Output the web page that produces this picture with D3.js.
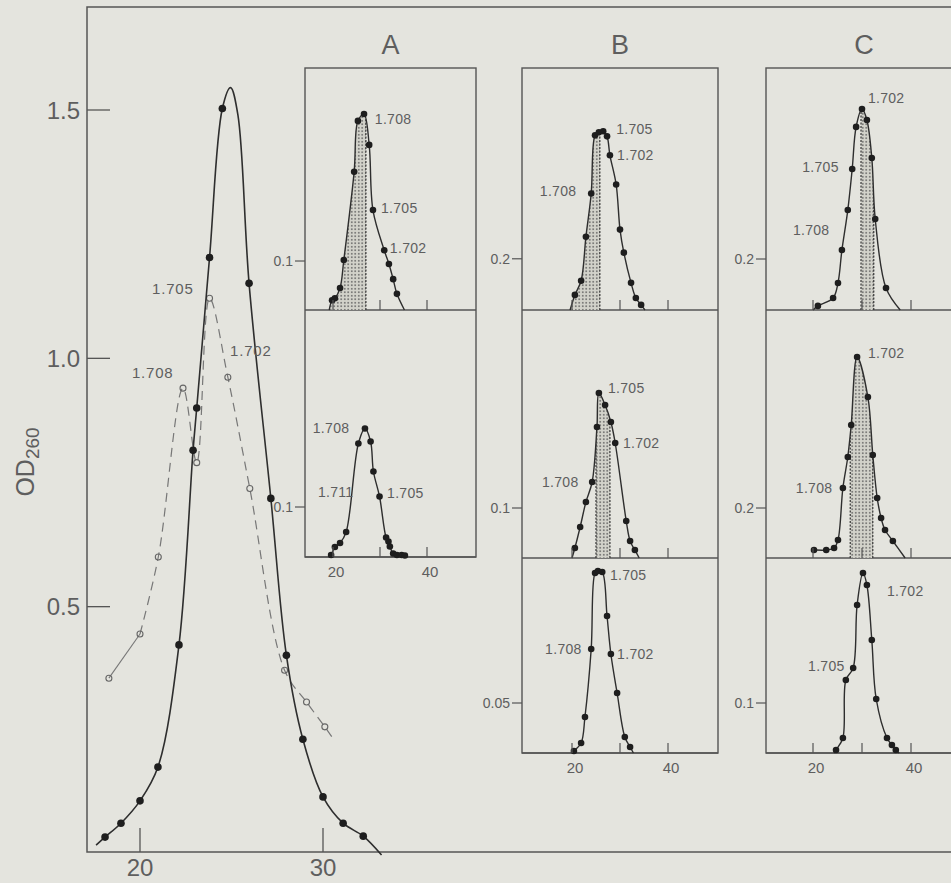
<!DOCTYPE html>
<html>
<head>
<meta charset="utf-8">
<script src="https://cdn.jsdelivr.net/npm/d3@7"></script>
<style>
  body { margin: 0; background: #e4e4de; }
  svg { display: block; }
  text { font-family: "Liberation Sans", Arial, sans-serif; fill: #5e5e5e; }
</style>
</head>
<body>
<script>
// main profile, filled points (fraction number, OD260)
var mainFilled = [[18.09,0.036],[18.96,0.064],[20.0,0.109],[20.98,0.177],[22.13,0.423],[22.9,0.815],[23.1,0.90],[23.8,1.203],[24.5,1.503],[25.96,1.151],[27.15,0.718],[28.0,0.402],[28.9,0.233],[30.0,0.117],[31.1,0.064],[32.2,0.038]]
// knots of the hand drawn solid curve
var mainCurve = [[17.6,0.02],[18.09,0.036],[18.96,0.064],[20.0,0.109],[20.98,0.177],[22.13,0.423],[22.9,0.815],[23.1,0.90],[23.8,1.203],[24.5,1.503],[24.95,1.545],[25.35,1.49],[25.96,1.151],[27.15,0.718],[28.0,0.402],[28.9,0.233],[30.0,0.117],[31.1,0.064],[32.2,0.038],[33.2,0.0]]
// open circles (dashed profile)
var mainOpen = [[18.3,0.356],[20.0,0.445],[21.0,0.60],[22.35,0.94],[23.1,0.79],[23.8,1.121],[24.8,0.962],[26.0,0.738],[27.9,0.372],[29.1,0.308],[30.1,0.258]]
var mainOpenEnd = [30.5,0.237]
var mainLabels = [["1.705",20.66,1.141],["1.702",24.92,1.016],["1.708",19.56,0.972]]
var mainYTicks = [0.5, 1.0, 1.5]
var mainXTicks = [20, 30]

// insets: points, curve ends, shaded range, labels
var a1Points = [[19.8,0.020],[20.4,0.024],[21.5,0.045],[22.3,0.102],[24.5,0.282],[25.3,0.386],[26.6,0.400],[27.7,0.337],[28.5,0.204],[30.9,0.122],[31.9,0.094],[32.8,0.063],[33.6,0.033]]
var a1Ends = [[19.2,0.0],[35.2,0.0]]
var a1Shade = [19.2, 27.0]
var a1Labels = [["1.708",28.9,0.390],["1.705",30.2,0.208],["1.702",32.1,0.127]]

var a2Points = [[19.6,0.004],[20.4,0.02],[21.5,0.028],[22.8,0.05],[25.4,0.227],[26.8,0.257],[28.0,0.231],[28.6,0.171],[29.9,0.121],[31.3,0.039],[31.8,0.031],[32.1,0.021],[32.8,0.007],[33.6,0.004],[34.6,0.004],[35.3,0.003]]
var a2Ends = [[19.2,0.0],[35.5,0.003]]
var a2Labels = [["1.708",15.7,0.258],["1.711",16.8,0.13],["1.705",31.5,0.128]]

var b1Points = [[20.6,0.059],[21.9,0.114],[22.9,0.286],[24.0,0.455],[24.8,0.682],[25.6,0.694],[26.5,0.698],[27.3,0.678],[27.9,0.604],[29.2,0.490],[30.0,0.314],[30.8,0.224],[32.3,0.106],[33.3,0.047],[34.4,0.020]]
var b1Ends = [[19.6,0.0],[35.2,0.0]]
var b1Shade = [19.6, 25.8]
var b1Labels = [["1.705",29.2,0.706],["1.702",29.4,0.604],["1.708",13.3,0.463]]

var b2Points = [[20.6,0.02],[21.7,0.062],[22.9,0.112],[24.2,0.152],[25.2,0.262],[25.6,0.33],[26.9,0.306],[28.1,0.272],[29.0,0.23],[31.3,0.074],[32.1,0.034],[33.1,0.016]]
var b2Ends = [[20.0,0.0],[34.0,0.0]]
var b2Shade = [25.0, 27.9]
var b2Labels = [["1.705",27.5,0.34],["1.702",30.6,0.23],["1.708",13.75,0.152]]

var b3Points = [[20.4,0.002],[21.9,0.010],[22.7,0.036],[24.0,0.104],[24.8,0.18],[25.4,0.182],[26.3,0.181],[27.3,0.137],[28.1,0.099],[29.4,0.060],[31.0,0.016],[32.1,0.006]]
var b3Ends = [[20.0,0.0],[32.8,0.0]]
var b3Labels = [["1.705",27.9,0.178],["1.708",14.4,0.104],["1.702",29.4,0.099]]

var c1Points = [[21.0,0.016],[24.1,0.047],[25.1,0.106],[25.9,0.235],[27.1,0.392],[28.0,0.553],[28.8,0.718],[30.0,0.788],[31.0,0.745],[32.0,0.596],[32.7,0.357],[34.9,0.086]]
var c1Ends = [[20.0,0.0],[37.8,0.0]]
var c1Shade = [29.8, 32.4]
var c1Labels = [["1.702",31.2,0.831],["1.705",17.8,0.561],["1.708",15.9,0.314]]

var c2Points = [[20.2,0.032],[22.7,0.032],[24.3,0.04],[25.1,0.072],[26.1,0.28],[27.1,0.404],[27.8,0.532],[29.0,0.804],[31.2,0.644],[32.2,0.412],[33.1,0.24],[33.9,0.16],[34.7,0.112],[36.3,0.068]]
var c2Ends = [[20.0,0.032],[38.8,0.0]]
var c2Shade = [27.6, 32.2]
var c2Labels = [["1.702",31.2,0.82],["1.708",16.5,0.28]]

var c3Points = [[24.7,0.006],[26.1,0.03],[26.7,0.146],[28.2,0.17],[29.0,0.296],[30.2,0.36],[31.0,0.336],[32.0,0.226],[32.9,0.108],[35.1,0.03],[36.1,0.016],[36.9,0.006]]
var c3Ends = [[24.3,0.0],[37.6,0.0]]
var c3Labels = [["1.705",19.0,0.174],["1.702",35.1,0.324]]

var insetXTicks = [20, 30, 40]
var insetXLabels = [20, 40]
var titles = ["A", "B", "C"]

var W = 951, H = 883
var svg = d3.select("body").append("svg").attr("width", W).attr("height", H)

var ink = "#2e2e2e", frame = "#555"

// stipple pattern for the shaded areas
var pat = svg.append("defs").append("pattern")
    .attr("id", "stip").attr("width", 3.5).attr("height", 3.5)
    .attr("patternUnits", "userSpaceOnUse")
pat.append("rect").attr("width", 3.5).attr("height", 3.5).attr("fill", "#d2d2ca")
pat.append("circle").attr("cx", 1.75).attr("cy", 1.75).attr("r", 0.8).attr("fill", "#555")

// ---- main panel ----
var x = d3.scaleLinear().domain([20, 30]).range([140, 323])
var y = d3.scaleLinear().domain([0, 1.5]).range([855, 110])

// frame: top, left, bottom
svg.append("path")
    .attr("d", "M" + W + ",7H87V852H" + W)
    .attr("fill", "none").attr("stroke", frame).attr("stroke-width", 1.5)

svg.selectAll(".ytick").data(mainYTicks).enter().append("line")
    .attr("x1", 87).attr("x2", 110)
    .attr("y1", function (d) { return y(d) }).attr("y2", function (d) { return y(d) })
    .attr("stroke", frame).attr("stroke-width", 1.3)
svg.selectAll(".ylab").data(mainYTicks).enter().append("text")
    .attr("x", 80).attr("y", function (d) { return y(d) })
    .attr("dy", "0.36em").attr("text-anchor", "end")
    .style("font-size", "24px")
    .text(function (d) { return d.toFixed(1) })
svg.selectAll(".xtick").data(mainXTicks).enter().append("line")
    .attr("x1", function (d) { return x(d) }).attr("x2", function (d) { return x(d) })
    .attr("y1", 852).attr("y2", 828)
    .attr("stroke", frame).attr("stroke-width", 1.3)
svg.selectAll(".xlab").data(mainXTicks).enter().append("text")
    .attr("x", function (d) { return x(d) }).attr("y", 876)
    .attr("text-anchor", "middle").style("font-size", "24px")
    .text(function (d) { return d })

// y axis title OD260
var yt = svg.append("text")
    .attr("transform", "translate(34,462) rotate(-90)")
    .attr("text-anchor", "middle").style("font-size", "25px")
yt.append("tspan").text("OD")
yt.append("tspan").attr("dy", 5).style("font-size", "19px").text("260")

var line = d3.line()
    .x(function (d) { return x(d[0]) }).y(function (d) { return y(d[1]) })

// open circle profile: thin solid start, then dashed
var openLine = mainOpen.concat([mainOpenEnd])
svg.append("path").datum(openLine.slice(0, 2))
    .attr("d", line).attr("fill", "none").attr("stroke", "#777").attr("stroke-width", 1.1)
svg.append("path").datum(openLine.slice(1))
    .attr("d", line.curve(d3.curveCatmullRom.alpha(0.5)))
    .attr("fill", "none").attr("stroke", "#777").attr("stroke-width", 1.2)
    .attr("stroke-dasharray", "9,6")
svg.selectAll(".open").data(mainOpen).enter().append("circle")
    .attr("cx", function (d) { return x(d[0]) }).attr("cy", function (d) { return y(d[1]) })
    .attr("r", 3).attr("fill", "none").attr("stroke", "#666").attr("stroke-width", 1.1)

svg.append("path").datum(mainCurve)
    .attr("d", line.curve(d3.curveCatmullRom.alpha(0.5)))
    .attr("fill", "none").attr("stroke", ink).attr("stroke-width", 1.6)
svg.selectAll(".filled").data(mainFilled).enter().append("circle")
    .attr("cx", function (d) { return x(d[0]) }).attr("cy", function (d) { return y(d[1]) })
    .attr("r", 3.8).attr("fill", "#1e1e1e")

svg.selectAll(".mlab").data(mainLabels).enter().append("text")
    .attr("x", function (d) { return x(d[1]) }).attr("y", function (d) { return y(d[2]) })
    .attr("dy", "0.36em").style("font-size", "15px").style("letter-spacing", "0.8px")
    .text(function (d) { return d[0] })

// ---- insets ----
var columns = [
    { left: 305, right: 476, x20: 333, x40: 427, bottom: 557 },
    { left: 522, right: 718, x20: 572, x40: 668, bottom: 753 },
    { left: 766, right: 962, x20: 813, x40: 911, bottom: 753 }
]
var rows = [[68, 310], [310, 558], [558, 753]]

var panels = [
    { col: 0, row: 0, ymax: 0.494, tick: 0.1, pts: a1Points, ends: a1Ends, shade: a1Shade, labels: a1Labels },
    { col: 0, row: 1, ymax: 0.494, tick: 0.1, pts: a2Points, ends: a2Ends, shade: null, labels: a2Labels, xlab: true },
    { col: 1, row: 0, ymax: 0.945, tick: 0.2, pts: b1Points, ends: b1Ends, shade: b1Shade, labels: b1Labels },
    { col: 1, row: 1, ymax: 0.496, tick: 0.1, pts: b2Points, ends: b2Ends, shade: b2Shade, labels: b2Labels },
    { col: 1, row: 2, ymax: 0.195, tick: 0.05, pts: b3Points, ends: b3Ends, shade: null, labels: b3Labels, xlab: true },
    { col: 2, row: 0, ymax: 0.949, tick: 0.2, pts: c1Points, ends: c1Ends, shade: c1Shade, labels: c1Labels },
    { col: 2, row: 1, ymax: 0.992, tick: 0.2, pts: c2Points, ends: c2Ends, shade: c2Shade, labels: c2Labels },
    { col: 2, row: 2, ymax: 0.39, tick: 0.1, pts: c3Points, ends: c3Ends, shade: null, labels: c3Labels, xlab: true }
]

columns.forEach(function (c, i) {
    svg.append("text").attr("x", (c.left + c.right) / 2).attr("y", 54)
        .attr("text-anchor", "middle").style("font-size", "27px")
        .text(titles[i])
    svg.append("rect")
        .attr("x", c.left).attr("y", rows[0][0])
        .attr("width", c.right - c.left).attr("height", c.bottom - rows[0][0])
        .attr("fill", "#e4e4de").attr("stroke", frame).attr("stroke-width", 1.4)
})

panels.forEach(function (p, k) {
    var c = columns[p.col]
    var top = rows[p.row][0]
    var bot = p.row === 1 && p.col === 0 ? c.bottom : rows[p.row][1]
    var xs = d3.scaleLinear().domain([20, 40]).range([c.x20, c.x40])
    var ys = d3.scaleLinear().domain([0, p.ymax]).range([bot, top])
    var g = svg.append("g")

    // divider line (bottom of this sub panel)
    g.append("line").attr("x1", c.left).attr("x2", c.right)
        .attr("y1", bot).attr("y2", bot)
        .attr("stroke", frame).attr("stroke-width", 1.4)

    var knots = [p.ends[0]].concat(p.pts).concat([p.ends[1]])
    var curve = d3.curveCatmullRom.alpha(0.5)

    if (p.shade) {
        var cid = "clip" + k
        g.append("clipPath").attr("id", cid).append("rect")
            .attr("x", xs(p.shade[0])).attr("y", top)
            .attr("width", xs(p.shade[1]) - xs(p.shade[0])).attr("height", bot - top)
        var area = d3.area().curve(curve)
            .x(function (d) { return xs(d[0]) })
            .y0(bot).y1(function (d) { return ys(d[1]) })
        g.append("path").datum(knots).attr("d", area)
            .attr("fill", "url(#stip)").attr("clip-path", "url(#" + cid + ")")
        // keep edge lines under the curve
        g.append("clipPath").attr("id", cid + "b")
            .append("path").datum(knots).attr("d", area)
        g.selectAll(".edge").data(p.shade).enter().append("line")
            .attr("x1", function (d) { return xs(d) }).attr("x2", function (d) { return xs(d) })
            .attr("y1", bot).attr("y2", top)
            .attr("stroke", "#333").attr("stroke-width", 1.2).attr("stroke-dasharray", "2,1.5")
            .attr("clip-path", "url(#" + cid + "b)")
    }

    var ln = d3.line().curve(curve)
        .x(function (d) { return xs(d[0]) }).y(function (d) { return ys(d[1]) })
    g.append("path").datum(knots).attr("d", ln)
        .attr("fill", "none").attr("stroke", ink).attr("stroke-width", 1.4)
    g.selectAll("circle").data(p.pts).enter().append("circle")
        .attr("cx", function (d) { return xs(d[0]) }).attr("cy", function (d) { return ys(d[1]) })
        .attr("r", 3.3).attr("fill", "#1e1e1e")

    // x tick marks rising from the bottom
    g.selectAll(".xt").data(insetXTicks).enter().append("line")
        .attr("x1", function (d) { return xs(d) }).attr("x2", function (d) { return xs(d) })
        .attr("y1", bot).attr("y2", bot - 10)
        .attr("stroke", frame).attr("stroke-width", 1.2)
    if (p.xlab) {
        g.selectAll(".xl").data(insetXLabels).enter().append("text")
            .attr("x", function (d) { return xs(d) + 3 }).attr("y", bot + 20)
            .attr("text-anchor", "middle").style("font-size", "15px")
            .text(function (d) { return d })
    }

    // y tick to the left of the frame
    g.append("line").attr("x1", c.left - 10).attr("x2", c.left)
        .attr("y1", ys(p.tick)).attr("y2", ys(p.tick))
        .attr("stroke", frame).attr("stroke-width", 1.2)
    g.append("text").attr("x", c.left - 12).attr("y", ys(p.tick))
        .attr("dy", "0.36em").attr("text-anchor", "end").style("font-size", "14px")
        .text(p.tick === 0.05 ? "0.05" : p.tick.toFixed(1))

    g.selectAll(".lab").data(p.labels).enter().append("text")
        .attr("x", function (d) { return xs(d[1]) }).attr("y", function (d) { return ys(d[2]) })
        .attr("dy", "0.36em").style("font-size", "14px").style("letter-spacing", "0.3px")
        .text(function (d) { return d[0] })
})
</script>
</body>
</html>
